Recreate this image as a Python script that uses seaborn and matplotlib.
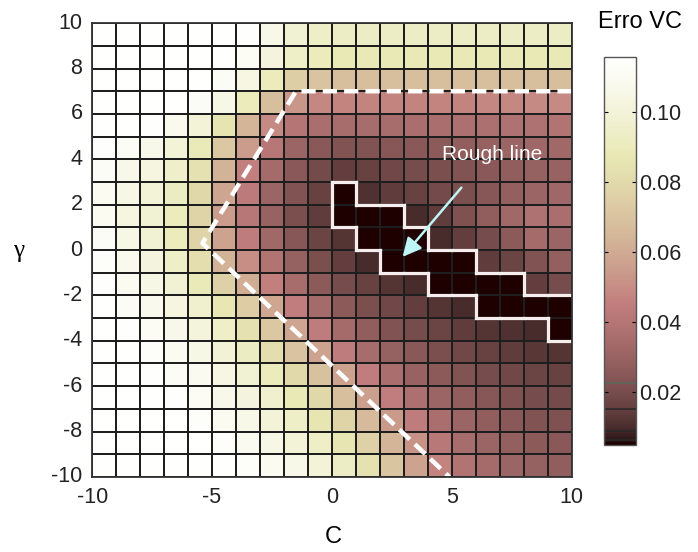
import matplotlib
matplotlib.use("Agg")
import numpy as np
import pandas as pd
import matplotlib.pyplot as plt
from matplotlib.collections import LineCollection
import seaborn as sns

#### data: VC error over the (C, gamma) grid, one row per gamma cell (top row first)

c_values = list(range(-10, 10))            # left edge of each C cell
gamma_values = list(range(9, -11, -1))     # lower edge of each gamma cell, top to bottom

err_vc = [
    [0.115, 0.115, 0.115, 0.115, 0.115, 0.115, 0.114, 0.106, 0.098, 0.094, 0.093, 0.093, 0.093, 0.093, 0.093, 0.093, 0.093, 0.093, 0.093, 0.093],
    [0.115, 0.115, 0.115, 0.115, 0.115, 0.115, 0.111, 0.102, 0.094, 0.090, 0.088, 0.088, 0.088, 0.088, 0.088, 0.088, 0.088, 0.088, 0.088, 0.088],
    [0.115, 0.115, 0.115, 0.115, 0.115, 0.112, 0.104, 0.090, 0.075, 0.070, 0.068, 0.068, 0.068, 0.068, 0.068, 0.068, 0.068, 0.068, 0.068, 0.068],
    [0.115, 0.115, 0.115, 0.115, 0.112, 0.105, 0.090, 0.068, 0.053, 0.048, 0.047, 0.047, 0.047, 0.047, 0.047, 0.047, 0.048, 0.048, 0.049, 0.049],
    [0.115, 0.115, 0.114, 0.108, 0.100, 0.085, 0.064, 0.049, 0.040, 0.036, 0.035, 0.035, 0.035, 0.036, 0.036, 0.037, 0.037, 0.038, 0.038, 0.039],
    [0.114, 0.112, 0.107, 0.100, 0.089, 0.072, 0.055, 0.041, 0.031, 0.025, 0.023, 0.023, 0.024, 0.025, 0.026, 0.027, 0.029, 0.031, 0.032, 0.033],
    [0.112, 0.107, 0.103, 0.095, 0.084, 0.063, 0.046, 0.034, 0.025, 0.019, 0.015, 0.016, 0.018, 0.020, 0.021, 0.023, 0.025, 0.027, 0.029, 0.030],
    [0.110, 0.105, 0.100, 0.092, 0.079, 0.058, 0.043, 0.031, 0.023, 0.016, 0.005, 0.011, 0.014, 0.016, 0.019, 0.021, 0.024, 0.028, 0.031, 0.032],
    [0.110, 0.103, 0.098, 0.090, 0.077, 0.055, 0.041, 0.030, 0.021, 0.014, 0.005, 0.005, 0.005, 0.010, 0.014, 0.022, 0.027, 0.033, 0.038, 0.036],
    [0.112, 0.105, 0.098, 0.090, 0.077, 0.057, 0.044, 0.033, 0.024, 0.017, 0.012, 0.005, 0.005, 0.005, 0.010, 0.015, 0.020, 0.026, 0.034, 0.031],
    [0.113, 0.108, 0.102, 0.094, 0.082, 0.063, 0.050, 0.039, 0.029, 0.021, 0.015, 0.010, 0.005, 0.005, 0.005, 0.005, 0.014, 0.017, 0.023, 0.028],
    [0.114, 0.110, 0.105, 0.098, 0.089, 0.076, 0.061, 0.046, 0.035, 0.026, 0.020, 0.016, 0.012, 0.010, 0.005, 0.005, 0.005, 0.005, 0.015, 0.020],
    [0.115, 0.112, 0.108, 0.103, 0.096, 0.087, 0.074, 0.059, 0.045, 0.034, 0.026, 0.021, 0.018, 0.015, 0.012, 0.010, 0.005, 0.005, 0.005, 0.005],
    [0.115, 0.114, 0.111, 0.107, 0.101, 0.094, 0.084, 0.072, 0.058, 0.044, 0.034, 0.027, 0.023, 0.020, 0.017, 0.014, 0.012, 0.011, 0.010, 0.005],
    [0.115, 0.115, 0.113, 0.110, 0.105, 0.099, 0.092, 0.082, 0.070, 0.057, 0.044, 0.035, 0.029, 0.025, 0.021, 0.018, 0.016, 0.014, 0.013, 0.012],
    [0.115, 0.115, 0.114, 0.112, 0.109, 0.104, 0.098, 0.090, 0.080, 0.069, 0.057, 0.045, 0.036, 0.030, 0.026, 0.023, 0.020, 0.018, 0.017, 0.016],
    [0.115, 0.115, 0.115, 0.114, 0.111, 0.107, 0.102, 0.096, 0.088, 0.079, 0.068, 0.056, 0.045, 0.037, 0.031, 0.027, 0.024, 0.022, 0.020, 0.019],
    [0.115, 0.115, 0.115, 0.115, 0.113, 0.110, 0.106, 0.100, 0.094, 0.086, 0.077, 0.066, 0.054, 0.044, 0.036, 0.031, 0.027, 0.025, 0.023, 0.022],
    [0.115, 0.115, 0.115, 0.115, 0.115, 0.113, 0.109, 0.105, 0.100, 0.094, 0.086, 0.076, 0.064, 0.052, 0.042, 0.035, 0.031, 0.028, 0.026, 0.025],
    [0.115, 0.115, 0.115, 0.115, 0.115, 0.115, 0.113, 0.110, 0.106, 0.100, 0.093, 0.084, 0.071, 0.057, 0.047, 0.039, 0.034, 0.031, 0.029, 0.027],
]

c_ticks = [-10, -5, 0, 5, 10]
gamma_ticks = list(range(-10, 11, 2))
cbar_ticks = [0.02, 0.04, 0.06, 0.08, 0.10]
cbar_lines = [0.0226, 0.0151, 0.0089, 0.0063]   # contour levels marked on the colorbar
vmin, vmax = 0.0049, 0.1157
rough_level = 0.008                             # cells under this form the "rough line"

# annotations (data coords: C, gamma)
boundary = [(10, 7), (-1.5, 7), (-5.4, 0.3), (4.9, -10)]
arrow_tail = (5.4, 2.75)
arrow_head = (2.95, -0.3)
label_pos = (6.7, 4.2)

plt.rcParams['font.family'] = ['Liberation Sans', 'DejaVu Sans']

df = pd.DataFrame(err_vc, index=gamma_values, columns=c_values)

# heatmap cells are unit squares: column 0 at C=-10, row 0 at gamma=10
def hx(c):
    return c - c_values[0]

def hy(g):
    return gamma_values[0] + 1 - g

fig = plt.figure(figsize=(6.98, 5.52), dpi=100)
ax = fig.add_axes([0.132, 0.136, 0.687, 0.822])
cax = fig.add_axes([0.866, 0.194, 0.045, 0.703])

sns.heatmap(df, ax=ax, cbar_ax=cax, cmap='pink', vmin=vmin, vmax=vmax,
            linewidths=1.3, linecolor='#1e1e1e', square=False)

ax.set_xticks([hx(c) for c in c_ticks])
ax.set_xticklabels([str(c) for c in c_ticks], rotation=0)
ax.set_yticks([hy(g) for g in gamma_ticks])
ax.set_yticklabels([str(g) for g in gamma_ticks], rotation=0)
ax.tick_params(length=0, labelsize=15.5, labelcolor='#222222', pad=7)
for s in ax.spines.values():
    s.set_visible(True)
    s.set_color('#333333')
    s.set_linewidth(1.3)

ax.set_xlabel('')
ax.set_ylabel('')
fig.text(0.477, 0.028, 'C', fontsize=17, ha='center', va='center')
fig.text(0.026, 0.545, 'γ', fontsize=18, ha='center', va='center',
         family=['Liberation Serif', 'DejaVu Serif'])

# white dashed boundary
bx = [hx(p[0]) for p in boundary]
by = [hy(p[1]) for p in boundary]
ax.plot(bx, by, color='white', lw=3.2, ls=(0, (3.2, 1.6)), solid_capstyle='butt')

# outline of the cells under rough_level
mask = np.array(err_vc) < rough_level
nr, nc = mask.shape
segs = []
for r in range(nr):
    for c in range(nc):
        if not mask[r, c]:
            continue
        if r > 0 and not mask[r - 1, c]:
            segs.append([(c, r), (c + 1, r)])
        if r < nr - 1 and not mask[r + 1, c]:
            segs.append([(c, r + 1), (c + 1, r + 1)])
        if c > 0 and not mask[r, c - 1]:
            segs.append([(c, r), (c, r + 1)])
        if c < nc - 1 and not mask[r, c + 1]:
            segs.append([(c + 1, r), (c + 1, r + 1)])
ax.add_collection(LineCollection(segs, colors='#f6eeee', linewidths=2.3,
                                 capstyle='projecting'))

ax.annotate('', xy=(hx(arrow_head[0]), hy(arrow_head[1])),
            xytext=(hx(arrow_tail[0]), hy(arrow_tail[1])),
            arrowprops=dict(arrowstyle='-|>', color='#bff5f5', lw=1.8,
                            mutation_scale=28, shrinkA=0, shrinkB=0))
ax.text(hx(label_pos[0]), hy(label_pos[1]), 'Rough line', color='white',
        fontsize=15, ha='center', va='center')

# colorbar
cbar = ax.collections[0].colorbar
cbar.set_ticks(cbar_ticks)
cbar.set_ticklabels(['%.2f' % t for t in cbar_ticks])
cax.tick_params(labelsize=15.5, labelcolor='#222222', direction='in', length=3,
                left=True, right=True, pad=2)
cbar.outline.set_edgecolor('#555555')
cbar.outline.set_linewidth(1.0)
for v in cbar_lines:
    cax.axhline(v, color='#2a2a2a' if v < 0.02 else '#5a6a5a', lw=1.2)
fig.text(0.917, 0.96, 'Erro VC', fontsize=17, ha='center', va='center')

fig.savefig('out.png', dpi=100)
